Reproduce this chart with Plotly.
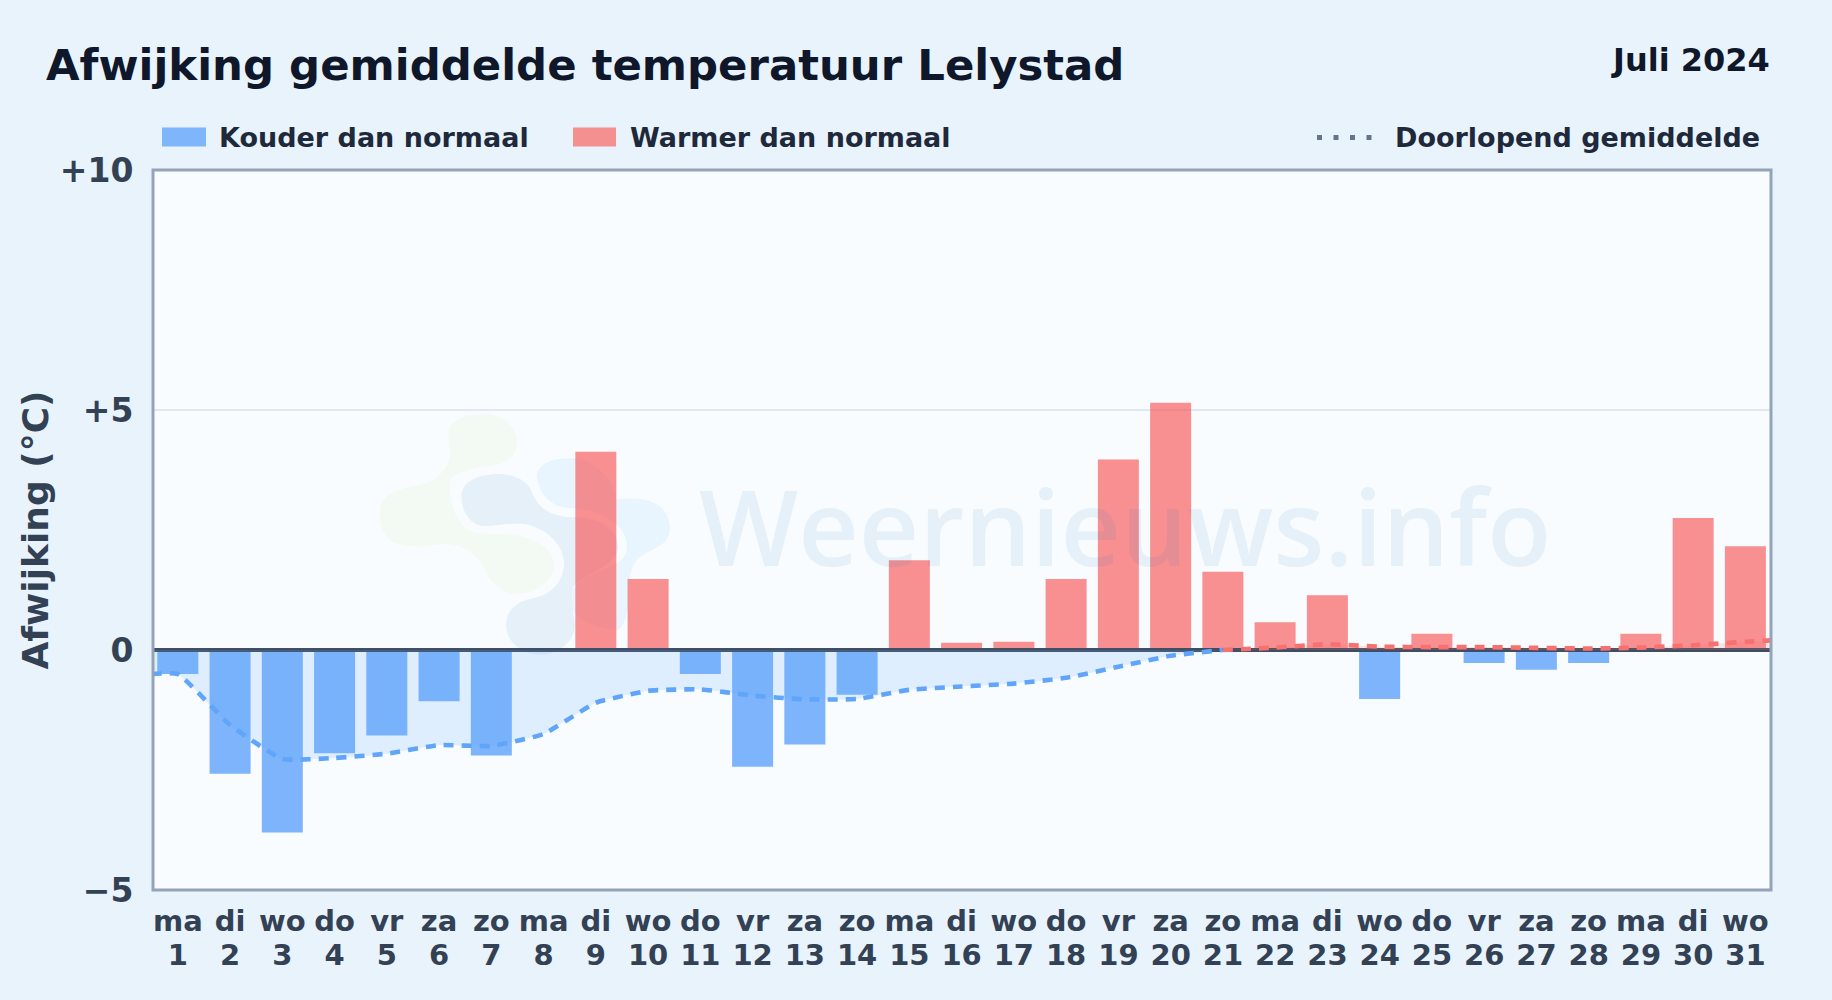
import plotly.graph_objects as go

# ---------- data ----------
weekdays = ["ma","di","wo","do","vr","za","zo","ma","di","wo","do","vr","za","zo","ma","di","wo","do","vr","za","zo","ma","di","wo","do","vr","za","zo","ma","di","wo"]
days = list(range(1, 32))
deviation = [-0.5,-2.58,-3.8,-2.15,-1.78,-1.07,-2.2,0,4.13,1.48,-0.5,-2.43,-1.97,-0.93,1.87,0.15,0.17,1.48,3.97,5.15,1.63,0.58,1.14,-1.02,0.34,-0.27,-0.41,-0.27,0.34,2.75,2.16]
running_x_cold = [0.5,1,2,3,4,5,6,7,8,9,10,11,12,13,14,15,16,17,18,19,20,21]
running_cold = [-0.5,-0.5,-1.56,-2.27,-2.25,-2.16,-1.98,-2.0,-1.75,-1.1,-0.85,-0.82,-0.95,-1.03,-1.02,-0.83,-0.76,-0.7,-0.58,-0.35,-0.12,0.0]
running_x_warm = [21,22,23,24,25,26,27,28,29,30,31,31.5]
running_warm = [0.0,0.05,0.12,0.07,0.06,0.06,0.045,0.03,0.05,0.1,0.17,0.2]
y_ticks = [-5, 0, 5, 10]
y_labels = ["−5", "0", "+5", "+10"]

cold_values = [v if v < 0 else None for v in deviation]
warm_values = [v if v > 0 else None for v in deviation]

# ---------- style ----------
FONT = "DejaVu Sans"
L, R, T, B = 153.0, 1771.0, 169.5, 890.5
X_RANGE = [0.525, 31.49]
def px(x): return (x - L) / (R - L)
def py(y): return (B - y) / (B - T)
def blob(points):
    """logo outline: a start point, then triples for cubic segments"""
    fx = lambda p: 370 + p[0] / 3
    fy = lambda p: 400 + p[1] / 3
    s = f"M{px(fx(points[0])):.4f},{py(fy(points[0])):.4f}"
    for i in range(1, len(points), 3):
        s += " C" + " ".join(f"{px(fx(p)):.4f},{py(fy(p)):.4f}" for p in points[i:i+3])
    return s + " Z"

green = [(235,100),(235,60),(290,40),(350,42),(410,45),(445,90),(440,130),(440,170),(410,190),(370,195),
         (320,205),(270,205),(240,240),(235,290),(250,350),(285,385),(310,405),(350,400),(410,402),
         (470,405),(550,440),(552,490),(555,540),(500,580),(440,582),(390,580),(365,550),(345,510),
         (325,465),(280,430),(220,432),(170,440),(120,445),(80,430),(40,415),(25,370),(30,330),
         (35,285),(80,265),(150,255),(200,245),(240,200),(240,160),(240,130),(235,120),(235,100)]
greyblue = [(275,280),(280,240),(330,222),(390,222),(440,224),(475,245),(485,275),(500,310),(525,350),(610,352),
            (680,352),(740,380),(745,440),(740,500),(640,520),(610,560),(600,590),(610,630),(615,680),
            (610,730),(560,765),(510,765),(450,765),(405,720),(408,670),(410,630),(440,605),(490,595),
            (540,585),(580,550),(582,490),(582,430),(520,375),(450,370),(400,370),(370,380),(340,378),
            (300,375),(270,330),(275,280)]
lightblue = [(500,230),(505,190),(545,172),(615,175),(670,178),(735,240),(738,297),(800,295),(840,295),(870,320),
             (900,345),(905,385),(895,410),(880,445),(830,450),(800,480),(780,505),(780,540),(774,560),
             (775,610),(775,670),(745,690),(640,680),(600,640),(600,600),(600,560),(640,530),(700,510),
             (750,490),(775,470),(770,430),(765,375),(700,330),(610,325),(550,325),(510,290),(500,230)]

DASH = "10px,8px"
fig = go.Figure()
fig.add_trace(go.Bar(x=days, y=cold_values, name="Kouder dan normaal", width=0.785,
                     marker=dict(color="rgba(50,135,250,0.62)", line=dict(width=0))))
fig.add_trace(go.Bar(x=days, y=warm_values, name="Warmer dan normaal", width=0.785,
                     marker=dict(color="rgba(248,72,72,0.6)", line=dict(width=0))))
fig.add_trace(go.Scatter(x=[0.5, 31.5], y=[0, 0], mode="lines", showlegend=False, hoverinfo="skip",
                         line=dict(color="#3f4e63", width=4)))
fig.add_trace(go.Scatter(x=running_x_cold, y=running_cold, mode="lines", name="Doorlopend gemiddelde",
                         line=dict(color="#60a5fa", width=4.6, dash=DASH, shape="spline", smoothing=0.4),
                         fill="tozeroy", fillcolor="rgba(96,165,250,0.16)"))
fig.add_trace(go.Scatter(x=running_x_warm, y=running_warm, mode="lines", showlegend=False,
                         line=dict(color="#f87171", width=4.6, dash=DASH, shape="spline", smoothing=0.4),
                         fill="tozeroy", fillcolor="rgba(248,113,113,0.16)"))
# empty trace that makes the weekday axis row appear
fig.add_trace(go.Scatter(x=days, y=[None] * len(days), xaxis="x2", mode="lines", showlegend=False, hoverinfo="skip"))

shapes = [
    dict(type="path", xref="paper", yref="paper", layer="below", path=blob(green), fillcolor="#f3f9f3", line=dict(width=0)),
    dict(type="path", xref="paper", yref="paper", layer="below", path=blob(lightblue), fillcolor="#e8f5fe", line=dict(width=0)),
    dict(type="path", xref="paper", yref="paper", layer="below", path=blob(greyblue), fillcolor="#e6f0f9", line=dict(width=0)),
    dict(type="rect", xref="paper", yref="paper", x0=px(162), x1=px(206), y0=py(127), y1=py(146),
         fillcolor="#7fb5fb", line=dict(width=0)),
    dict(type="rect", xref="paper", yref="paper", x0=px(573), x1=px(616), y0=py(127), y1=py(146),
         fillcolor="#f59090", line=dict(width=0)),
    dict(type="line", xref="paper", yref="paper", x0=px(1317), x1=px(1374), y0=py(137), y1=py(137),
         line=dict(color="#64748b", width=5, dash="5px,11.5px")),
    dict(type="rect", xref="paper", yref="paper", layer="above", x0=0, x1=1, y0=0, y1=1,
         fillcolor="rgba(0,0,0,0)", line=dict(color="#94a3b8", width=3)),
]
def text(s, x, y, size, color, anchor="left", font=FONT, weight=None):
    f = dict(family=font, size=size, color=color)
    if weight:
        f["weight"] = weight
    return dict(text=s, xref="paper", yref="paper", x=px(x), y=py(y), xanchor=anchor, yanchor="middle",
                showarrow=False, font=f)
B_ = lambda s: f"<b>{s}</b>"
annotations = [
    text(B_("Afwijking gemiddelde temperatuur Lelystad"), 44, 64, 43.4, "#0f172a"),
    text(B_("Juli 2024"), 1772, 59, 32, "#0f172a", "right"),
    text(B_("Kouder dan normaal"), 217, 137, 27, "#1e293b"),
    text(B_("Warmer dan normaal"), 628, 137, 27, "#1e293b"),
    text(B_("Doorlopend gemiddelde"), 1393, 137, 27, "#1e293b"),
    text("Weernieuws.info", 1125, 525, 105, "rgba(30,120,190,0.085)", "center", "Open Sans", 600),
]

fig.update_layout(
    width=1832, height=1000, autosize=False,
    margin=dict(l=L, r=1832 - R, t=T, b=1000 - B, pad=0),
    paper_bgcolor="#e8f3fc", plot_bgcolor="#f8fcff",
    barmode="overlay", showlegend=False,
    font=dict(family=FONT, color="#334155"),
    shapes=shapes, annotations=annotations,
    xaxis=dict(range=X_RANGE, tickmode="array", tickvals=days,
               ticktext=[B_(d) for d in days],
               tickfont=dict(size=29, color="#334155"), showgrid=False, zeroline=False,
               showline=False, ticks="outside", ticklen=39, tickcolor="rgba(0,0,0,0)", tickangle=0),
    xaxis2=dict(range=X_RANGE, overlaying="x", anchor="y", side="bottom", tickmode="array", tickvals=days,
                ticktext=[B_(w) for w in weekdays],
                tickfont=dict(size=29, color="#334155"), showgrid=False, zeroline=False,
                showline=False, ticks="outside", ticklen=5, tickcolor="rgba(0,0,0,0)", tickangle=0),
    yaxis=dict(range=[-5, 10], tickmode="array", tickvals=y_ticks,
               ticktext=[B_(t) for t in y_labels],
               tickfont=dict(size=33, color="#334155"), showgrid=True, gridcolor="#e2e8f0", gridwidth=2,
               zeroline=False, showline=False, ticks="outside", ticklen=12, tickcolor="rgba(0,0,0,0)",
               title=dict(text=B_("Afwijking (°C)"), font=dict(size=36, color="#334155"), standoff=0)),
)
fig.write_html("out.html", config={"displayModeBar": False},
               post_script="document.body.style.margin='0';document.body.style.overflow='hidden';")
